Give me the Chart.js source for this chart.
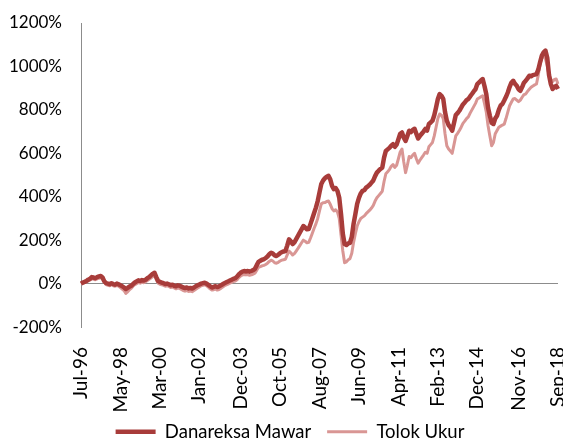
<!DOCTYPE html>
<html lang="id">
<head>
<meta charset="UTF-8">
<title>Danareksa Mawar vs Tolok Ukur</title>
<script src="https://cdn.jsdelivr.net/npm/chart.js"></script>
<style>
  html, body { margin: 0; padding: 0; background: #fff; }
  #wrap { width: 563px; height: 439px; }
</style>
</head>
<body>
<div id="wrap"><canvas id="myChart"></canvas></div>
<script>
// monthly returns since Jul-96, in %
const startMonth = 6;   // Jul
const startYear = 1996;
const monthNames = ['Jan','Feb','Mar','Apr','May','Jun','Jul','Aug','Sep','Oct','Nov','Dec'];

const tickLabels = ['Jul-96','May-98','Mar-00','Jan-02','Dec-03','Oct-05','Aug-07',
                    'Jun-09','Apr-11','Feb-13','Dec-14','Nov-16','Sep-18'];

const danareksaMawar = [
  0, 5, 8, 12, 18, 22, 30, 28, 25, 30, 33, 35,
  28, 10, 2, 0, -3, 2, -2, -5, 0, -3, -8, -12,
  -18, -25, -20, -14, -10, -2, 5, 10, 15, 12, 16, 14,
  18, 25, 30, 38, 45, 50, 30, 12, 8, 5, 2, -2,
  0, -3, -8, -5, -10, -12, -8, -10, -14, -18, -20, -18,
  -22, -20, -23, -18, -12, -8, -4, 0, 2, 4, 0, -6,
  -12, -18, -15, -12, -16, -13, -8, -3, 2, 6, 10, 14,
  18, 22, 25, 32, 42, 50, 55, 58, 56, 58, 55, 58,
  62, 68, 85, 100, 105, 110, 112, 118, 125, 135, 142, 138,
  130, 127, 133, 140, 145, 148, 150, 175, 204, 195, 182, 190,
  205, 220, 235, 250, 265, 258, 250, 251, 275, 300, 325, 350,
  380, 420, 459, 475, 485, 492, 496, 480, 450, 435, 440, 427,
  396, 320, 230, 182, 178, 185, 188, 215, 275, 320, 367, 395,
  415, 427, 430, 442, 448, 455, 465, 475, 495, 511, 520, 528,
  534, 580, 611, 618, 625, 635, 642, 630, 640, 665, 690, 696,
  672, 657, 680, 704, 698, 708, 713, 690, 668, 680, 690, 700,
  712, 705, 735, 742, 750, 775, 811, 850, 873, 865, 851, 790,
  750, 730, 719, 704, 740, 776, 785, 796, 810, 825, 834, 845,
  850, 862, 873, 885, 895, 919, 927, 935, 942, 910, 873, 810,
  773, 740, 735, 760, 773, 800, 820, 827, 843, 860, 880, 905,
  925, 934, 920, 911, 895, 888, 905, 925, 934, 945, 957, 955,
  960, 962, 965, 985, 1019, 1050, 1065, 1073, 1040, 960, 919, 896,
  905, 911, 896
];

const tolokUkur = [
  0, 2, 5, 8, 12, 16, 22, 20, 18, 22, 25, 27,
  22, 8, -5, -8, -10, -5, -10, -12, -8, -12, -18, -25,
  -32, -45, -38, -28, -22, -12, -5, 0, 5, 2, 6, 4,
  8, 14, 20, 26, 32, 36, 18, 2, -3, -6, -8, -12,
  -10, -13, -18, -15, -20, -24, -20, -22, -27, -32, -35, -32,
  -36, -34, -37, -32, -26, -20, -15, -10, -8, -6, -10, -16,
  -24, -30, -28, -25, -30, -27, -22, -16, -10, -6, -2, 2,
  6, 10, 12, 18, 28, 35, 40, 42, 40, 42, 38, 40,
  44, 48, 62, 75, 78, 82, 84, 88, 94, 102, 108, 104,
  96, 94, 98, 104, 108, 110, 112, 132, 150, 142, 132, 138,
  150, 162, 175, 188, 200, 195, 188, 190, 210, 232, 255, 275,
  300, 335, 367, 372, 373, 378, 380, 365, 345, 335, 340, 330,
  300, 225, 150, 96, 100, 110, 115, 140, 190, 230, 265, 285,
  300, 306, 312, 322, 330, 338, 348, 360, 380, 395, 405, 415,
  425, 470, 506, 515, 525, 540, 548, 535, 545, 575, 606, 620,
  560, 511, 545, 585, 580, 592, 600, 575, 555, 568, 580, 592,
  605, 600, 630, 640, 650, 680, 720, 760, 781, 775, 760, 690,
  635, 620, 610, 600, 640, 680, 692, 705, 720, 738, 748, 760,
  768, 785, 800, 815, 830, 850, 855, 860, 865, 830, 790, 727,
  680, 635, 650, 690, 705, 720, 725, 730, 734, 760, 790, 819,
  835, 850, 852, 845, 838, 845, 858, 870, 873, 885, 895, 904,
  910, 915, 919, 960, 1010, 1040, 1050, 1035, 1004, 960, 942, 930,
  940, 942, 919
];

// month labels Jul-96 .. Sep-18
const labels = danareksaMawar.map((_, i) => {
  const m = startMonth + i;
  const y = (startYear + Math.floor(m / 12)) % 100;
  return monthNames[m % 12] + '-' + String(y).padStart(2, '0');
});

const fontFamily = 'Lato, "Open Sans", sans-serif';

// nudge the legend a bit (right / up) after layout, chart area stays put
const legendNudge = {
  id: 'legendNudge',
  afterLayout(chart) {
    const lg = chart.legend;
    if (!lg) return;
    lg.left += 8; lg.right += 8;
    lg.top -= 4; lg.bottom -= 4;
  }
};

const ctx = document.getElementById('myChart').getContext('2d');
new Chart(ctx, {
  type: 'line',
  data: {
    labels: labels,
    datasets: [
      {
        label: 'Danareksa Mawar',
        data: danareksaMawar,
        borderColor: '#A83C3A',
        backgroundColor: '#A83C3A',
        borderWidth: 4.5,
        pointRadius: 0,
        tension: 0,
        borderJoinStyle: 'round',
        order: 1
      },
      {
        label: 'Tolok Ukur',
        data: tolokUkur,
        borderColor: '#D99694',
        backgroundColor: '#D99694',
        borderWidth: 3,
        pointRadius: 0,
        tension: 0,
        borderJoinStyle: 'round',
        order: 2
      }
    ]
  },
  plugins: [legendNudge],
  options: {
    responsive: true,
    maintainAspectRatio: false,
    animation: false,
    layout: { padding: { left: 6, right: 5, top: 23, bottom: -16 } },
    plugins: {
      tooltip: { enabled: false },
      legend: {
        position: 'bottom',
        labels: {
          usePointStyle: true,
          pointStyle: 'line',
          pointStyleWidth: 40,
          color: '#000',
          padding: 2,
          font: { family: fontFamily, size: 18.5 },
          // a little more room between the two entries
          generateLabels: chart => {
            const items = Chart.defaults.plugins.legend.labels.generateLabels(chart);
            items[0].text += '\u2003';
            return items;
          }
        }
      }
    },
    scales: {
      x: {
        type: 'category',
        offset: false,
        grid: { display: false },
        border: { display: false },
        afterFit: s => { s.paddingLeft = 0; s.paddingRight = 0; },
        ticks: {
          autoSkip: false,
          minRotation: 90,
          maxRotation: 90,
          padding: 12,
          color: '#000',
          font: { family: fontFamily, size: 19 },
          callback: function (val) {
            const l = this.getLabelForValue(val);
            return tickLabels.includes(l) ? l : null;
          }
        }
      },
      y: {
        min: -200,
        max: 1200,
        afterFit: s => { s.paddingTop = 0; s.paddingBottom = 0; s.width = 75; },
        ticks: {
          stepSize: 200,
          padding: 19,
          color: '#000',
          font: { family: fontFamily, size: 17 },
          callback: v => v + '%'
        },
        grid: {
          drawTicks: false,
          color: c => c.tick && c.tick.value === 0 ? '#8c8c8c' : 'rgba(0,0,0,0)',
          lineWidth: 1
        },
        border: { display: true, color: '#8c8c8c', width: 1 }
      }
    }
  }
});
</script>
</body>
</html>
